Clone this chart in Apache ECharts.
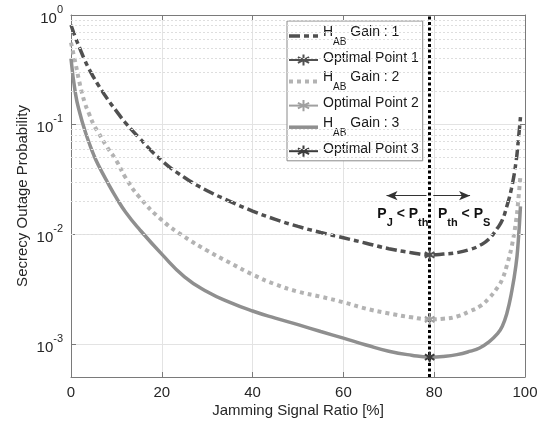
<!DOCTYPE html>
<html><head><meta charset="utf-8">
<script src="https://cdn.jsdelivr.net/npm/echarts@6/dist/echarts.min.js"></script>
<style>html,body{margin:0;padding:0;background:#fff}#c{width:549px;height:427px}</style>
</head><body><div id="c"></div>
<script>
const xVals = [0,1,2,3,4,5,6,8,10,12,15,20,25,30,35,40,45,50,55,60,65,70,75,79,82,85,88,90,92,94,95,96,97,98,98.5,99];
const gain1 = [0.81,0.62,0.49,0.39,0.32,0.27,0.23,0.172,0.133,0.104,0.076,0.047,0.033,0.025,0.020,0.0163,0.0137,0.0118,0.0104,0.0093,0.0083,0.0074,0.0068,0.0065,0.0066,0.0068,0.0073,0.0079,0.009,0.0115,0.0135,0.018,0.026,0.045,0.07,0.117];
const gain2 = [0.56,0.36,0.23,0.16,0.125,0.10,0.085,0.062,0.047,0.033,0.022,0.0135,0.0095,0.0071,0.0055,0.0043,0.0035,0.0030,0.0027,0.0024,0.0021,0.0019,0.00175,0.00168,0.0017,0.00178,0.0020,0.0022,0.0026,0.0033,0.0039,0.0052,0.0075,0.013,0.02,0.035];
const gain3 = [0.40,0.19,0.125,0.09,0.068,0.053,0.043,0.030,0.0215,0.016,0.0112,0.0066,0.0041,0.0030,0.0024,0.0020,0.00172,0.0015,0.0013,0.00113,0.00098,0.00086,0.00079,0.00076,0.00077,0.0008,0.00086,0.00092,0.00104,0.00125,0.00145,0.0019,0.0029,0.0052,0.0085,0.018];
const optX = 79;
const optY = [0.0065, 0.00168, 0.00076];
const seriesNames = ['HAB Gain : 1','Optimal Point 1','HAB Gain : 2','Optimal Point 2','HAB Gain : 3','Optimal Point 3'];
const yMin = 5e-4, yMax = 1;
const arrowY = 0.0225;
const arrowLeft = [78.3, 69.5];
const arrowRight = [79.8, 87.9];
const labelY = 0.0141;
const labelX = [73.1, 86.6];

const FONT = "'Liberation Sans', Arial, Helvetica, sans-serif";
const star = 'path://M5,0L5,10M0.67,2.5L9.33,7.5M0.67,7.5L9.33,2.5';

function pairs(ys){ return xVals.map((x,i)=>[x, ys[i]]); }

const minorVals = [];
for (let e=-4;e<=-1;e++){ for(let k=2;k<=9;k++){ const v=k*Math.pow(10,e); if(v>=yMin && v<yMax) minorVals.push(v);} }

const chart = echarts.init(document.getElementById('c'), null, {renderer:'canvas'});

const curveStyles = {};
function curve(name, ys, color, width, dash, z){
  curveStyles[name] = {color, width, dash};
  return {name, type:'line', data:pairs(ys), smooth:0.5, symbol:'none', z:z||3,
    lineStyle:{color, width, type:dash, cap:'butt'}, itemStyle:{color}};
}
function optPoint(name, y, color){
  return {name, type:'line', data:[[optX,y]], symbol:star, symbolSize:11, symbolKeepAspect:true, z:6,
    lineStyle:{color, width:2}, itemStyle:{color:'rgba(0,0,0,0)', borderColor:color, borderWidth:2}};
}
const subRich = {
  n:{fontSize:14, fontFamily:FONT, color:'#1a1a1a', lineHeight:18, verticalAlign:'top'},
  sub:{fontSize:10, fontFamily:FONT, color:'#1a1a1a', lineHeight:22, verticalAlign:'bottom'}
};
const boldRich = {
  b:{fontSize:14, fontWeight:'bold', fontFamily:FONT, color:'#111', lineHeight:18, verticalAlign:'top'},
  s:{fontSize:11, fontWeight:'bold', fontFamily:FONT, color:'#111', lineHeight:22, verticalAlign:'bottom'}
};

const series = [
  {name:'grid-minor', type:'line', data:[], z:1, silent:true,
    markLine:{silent:true, symbol:'none', label:{show:false},
      lineStyle:{color:'#dedede', width:1, type:[2,2]},
      data:minorVals.map(v=>({yAxis:v}))}},
  curve(seriesNames[0], gain1, '#505050', 3.5, [11,4,5,4], 3),
  optPoint(seriesNames[1], optY[0], '#505050'),
  curve(seriesNames[2], gain2, '#b3b3b3', 4, [4,4], 3),
  optPoint(seriesNames[3], optY[1], '#a0a0a0'),
  curve(seriesNames[4], gain3, '#8f8f8f', 3.5, 'solid', 3),
  optPoint(seriesNames[5], optY[2], '#3c3c3c'),
  {name:'annot', type:'line', data:[], z:5, silent:true,
    markLine:{silent:true, label:{show:false}, symbol:'none',
      data:[
        [{coord:[optX, yMin], symbol:'none', lineStyle:{color:'#000', width:3, type:[3,2.5]}},
         {coord:[optX, yMax], symbol:'none'}],
        [{coord:[arrowLeft[0], arrowY], symbol:'none', lineStyle:{color:'#333', width:1, type:'solid'}},
         {coord:[arrowLeft[1], arrowY], symbol:'arrow', symbolSize:[7,11]}],
        [{coord:[arrowRight[0], arrowY], symbol:'none', lineStyle:{color:'#333', width:1, type:'solid'}},
         {coord:[arrowRight[1], arrowY], symbol:'arrow', symbolSize:[7,11]}]
      ]},
    markPoint:{silent:true, symbol:'circle', symbolSize:1, itemStyle:{color:'rgba(0,0,0,0)'},
      label:{show:true, position:'inside', rich:boldRich},
      data:[
        {coord:[labelX[0], labelY], label:{formatter:'{b|P}{s|J}{b| < P}{s|th}'}},
        {coord:[labelX[1], labelY], label:{formatter:'{b|P}{s|th}{b| < P}{s|S}'}}
      ]}
  }
];

const legendData = seriesNames.map(n => {
  const cs = curveStyles[n];
  return cs ? {name:n, itemStyle:{opacity:0}, lineStyle:{width:cs.width, color:cs.color, type:cs.dash}} : {name:n};
});

const option = {
  animation:false,
  backgroundColor:'#fff',
  grid:{left:71, right:24, top:15, bottom:50},
  legend:{
    data:legendData, orient:'vertical', left:287, top:21,
    backgroundColor:'#fff', borderColor:'#8a8a8a', borderWidth:1, borderRadius:0,
    padding:[4,4,3,0], itemGap:4, itemWidth:29, itemHeight:14,
    textStyle:{fontFamily:FONT, fontSize:14, color:'#1a1a1a', rich:subRich},
    formatter:function(name){
      if(name.indexOf('HAB')===0) return '{n|H}{sub|AB}{n|'+name.slice(3)+'}';
      return '{n|'+name+'}';
    }
  },
  xAxis:[{
    type:'value', min:0, max:100, interval:20,
    name:'Jamming Signal Ratio [%]', nameLocation:'middle', nameGap:26, nameMoveOverlap:false,
    nameTextStyle:{fontFamily:FONT, fontSize:15, color:'#262626'},
    axisLine:{lineStyle:{color:'#7a7a7a', width:1}},
    axisTick:{inside:true, length:5, lineStyle:{color:'#7a7a7a'}},
    axisLabel:{fontFamily:FONT, fontSize:15, color:'#262626', margin:8},
    splitLine:{show:true, lineStyle:{color:'#e3e3e3', width:1}}
  },{
    type:'value', min:0, max:100, interval:20, position:'top',
    axisLine:{show:true, onZero:false, lineStyle:{color:'#7a7a7a', width:1}},
    axisTick:{show:true, inside:true, length:5, lineStyle:{color:'#7a7a7a'}},
    axisLabel:{show:false}, splitLine:{show:false}
  }],
  yAxis:[{
    type:'log', logBase:10, min:yMin, max:yMax,
    name:'Secrecy Outage Probability', nameLocation:'middle', nameGap:41, nameRotate:90, nameMoveOverlap:false,
    nameTextStyle:{fontFamily:FONT, fontSize:15, color:'#262626'},
    axisLine:{show:true, lineStyle:{color:'#7a7a7a', width:1}},
    axisTick:{show:true, inside:true, length:5, lineStyle:{color:'#7a7a7a'}},
    axisLabel:{fontFamily:FONT, fontSize:15, color:'#262626', margin:8,
      formatter:function(v){
        const e = Math.log10(v); const r = Math.round(e);
        if (Math.abs(e-r)>1e-6) return '';
        return '{m|10}{sup|'+r+'}';
      },
      rich:{
        m:{fontSize:15, fontFamily:FONT, color:'#262626', lineHeight:22, verticalAlign:'bottom'},
        sup:{fontSize:11, fontFamily:FONT, color:'#262626', lineHeight:22, verticalAlign:'top'}
      }
    },
    splitLine:{show:true, lineStyle:{color:'#e3e3e3', width:1}}
  },{
    type:'log', logBase:10, min:yMin, max:yMax, position:'right',
    axisLine:{show:true, onZero:false, lineStyle:{color:'#7a7a7a', width:1}},
    axisTick:{show:true, inside:true, length:5, lineStyle:{color:'#7a7a7a'}},
    axisLabel:{show:false}, splitLine:{show:false}
  }],
  series
};
chart.setOption(option);
</script></body></html>
